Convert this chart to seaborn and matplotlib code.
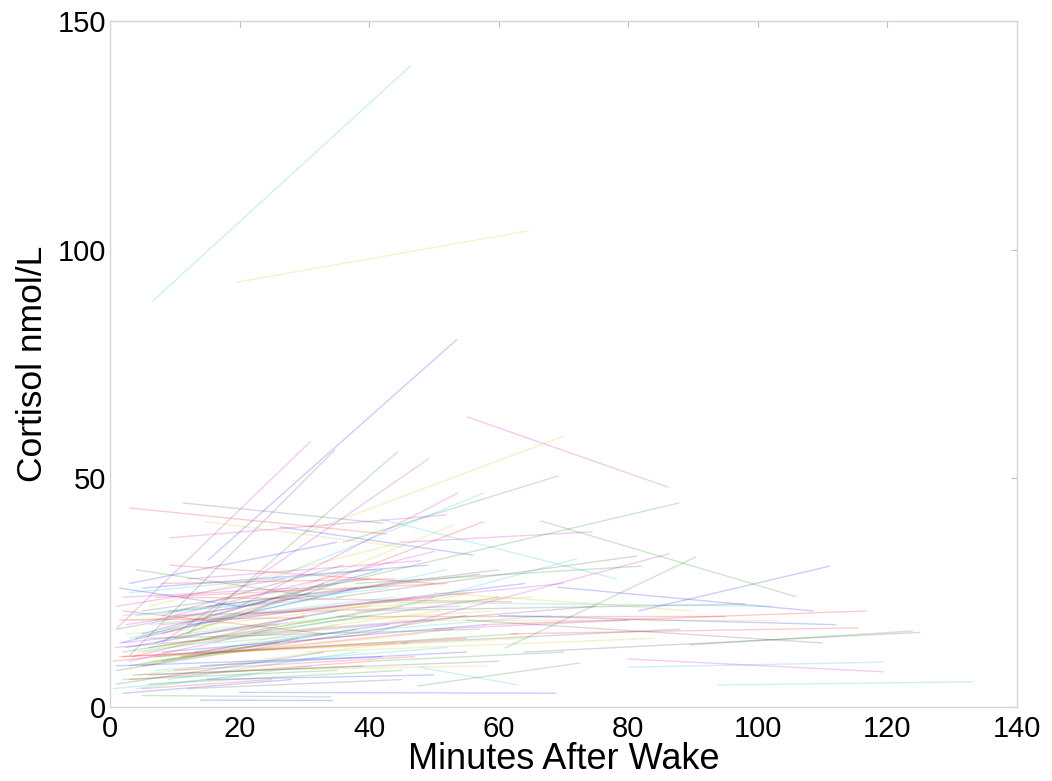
import numpy as np
import pandas as pd
import matplotlib
matplotlib.use("Agg")
import matplotlib.pyplot as plt
import seaborn as sns

# one row per subject: first and second saliva sample (colour cycles b,g,r,c,m,y,k)
start_min = [
    15.1, 12, 3.1, 6.6, 1.1, 19.6, 3.1,
    81.6, 66.5, 58, 42, 55.2, 30, 11.3,
    69.1, 32, 62, 79.9, 79.9, 14.7, 55,
    26.2, 89.5, 9.3, 93.8, 8, 10, 35,
    20, 36, 20, 45, 40, 30, 64,
    13.9, 61.0, 35, 47.8, 45, 50, 38,
    60, 38, 8, 25, 9.3, 4, 1,
    1.5, 5, 0.5, 40, 20, 4.5, 1,
    8, 47.5, 3, 3, 2.5, 6, 9,
    5, 2, 3.5, 2, 7, 10, 5,
    2.5, 6, 1.5, 7, 3, 6, 3.5,
    2, 6, 11, 3, 8, 4, 1,
    12, 5, 2, 9, 0.8, 9, 4,
    13, 7, 1.5, 4, 10, 2.5, 8,
    5, 3, 11, 6, 1, 3, 8,
    14, 2, 7, 5, 12, 9, 15,
    1, 6, 10, 4, 2, 13, 6,
    3, 7, 5, 11, 2, 18, 22,
    15, 4, 8, 16, 20, 43, 45,
    1.5, 40, 2, 0.5, 50, 20, 12,
]
start_cort = [
    32.1, 16, 43.5, 88.8, 17.3, 92.9, 11.4,
    21.0, 40.7, 18, 41, 63.4, 38, 44.6,
    26.2, 26, 16, 8.7, 10.5, 40.5, 19,
    39.4, 13.6, 31, 4.8, 14, 15, 24,
    3.2, 36, 20, 22, 16, 12, 12,
    1.5, 12.9, 20, 8.7, 36, 25, 21,
    20, 27, 18, 28, 37, 9, 8,
    14, 2.5, 10, 23, 22, 7, 5,
    12, 4.6, 6, 15, 18, 10, 21,
    16, 12, 11, 20, 19, 15, 21,
    13, 13, 19, 8, 10, 22, 7,
    3, 5, 11, 25, 16, 12, 17,
    18, 9, 21, 6, 13, 13, 15,
    12, 14, 11, 4, 20, 16, 10,
    26, 9, 24, 18, 22, 19, 20,
    9, 6, 24, 12, 28, 17, 22,
    9, 15, 8, 20, 14, 19, 7,
    27, 11, 4, 16, 24, 12, 16,
    6, 30, 27, 14, 20, 19, 14,
    26, 10, 11, 4, 17, 8, 4,
]
end_min = [
    53.5, 44.4, 42.7, 46.4, 30.9, 64.5, 34.7,
    111.1, 105.9, 116.8, 78.2, 86.1, 70.2, 42.1,
    108.5, 87.8, 115.4, 119.3, 119.3, 45, 109.9,
    56, 123.9, 50, 133.2, 49.1, 53, 81.3,
    68.8, 69.1, 57.6, 72, 86.3, 84, 125,
    34.4, 90.4, 95, 63, 74.4, 90, 98,
    112, 82, 50, 57.7, 52, 35, 55,
    38, 34, 40, 102, 53.7, 44, 33,
    58, 72.5, 40, 52, 48, 48, 57,
    42, 45, 30, 36, 50, 47, 40,
    35, 60, 30, 52, 25, 45, 60,
    28, 45, 53, 41, 31, 56, 24,
    64, 29, 33, 38, 50, 51, 33,
    43, 35, 46, 31, 54, 59, 26,
    49, 38, 62, 44, 27, 65, 36,
    55, 35, 52, 40, 48, 40, 60,
    42, 57, 47, 43, 26, 55, 39,
    35, 63, 25, 38, 29, 64, 75,
    50, 32, 44, 68, 70, 103, 88,
    20, 70, 55, 22, 80, 58, 45,
]
end_cort = [
    80.3, 55.8, 37.8, 140.2, 58.0, 104.1, 56.2,
    30.8, 24.1, 21.0, 28.0, 48.1, 59.3, 40.2,
    21.0, 44.6, 17.3, 9.8, 7.7, 35, 14.0,
    33.2, 16.6, 27, 5.5, 54.2, 39.8, 33.0,
    3.0, 50.5, 40.5, 32.4, 33.5, 15, 16.3,
    1.4, 32.8, 20, 4.8, 38.3, 21, 22.5,
    18, 30.8, 24, 46.8, 42, 18, 20,
    26, 2.2, 16, 22, 46.8, 14, 12,
    18, 9.6, 10, 30, 28, 16, 29,
    30, 22, 20, 24, 34, 24, 28,
    21, 24, 19.5, 13, 17, 36, 10,
    6, 8, 17, 30, 25, 25, 23,
    27, 15, 16, 12, 19, 21, 27,
    18, 27, 14, 9, 22, 21, 14,
    31, 17, 23, 24, 28, 24, 31,
    12, 8, 27, 20, 32, 22, 30,
    11, 17, 11, 26, 18, 25, 9,
    36, 16, 6, 20, 26, 15, 22,
    7, 24, 28, 20, 27, 19, 17,
    22, 12, 15, 7, 19, 9, 6,
]

n = len(start_min)
df = pd.DataFrame({
    "subject": np.repeat(np.arange(n), 2),
    "minutes": np.column_stack([start_min, end_min]).ravel(),
    "cortisol": np.column_stack([start_cort, end_cort]).ravel(),
})

matlab_cycle = [(0, 0, 1), (0, 0.5, 0), (1, 0, 0), (0, 0.75, 0.75),
                (0.75, 0, 0.75), (0.75, 0.75, 0), (0.25, 0.25, 0.25)]
pal = [matlab_cycle[i % 7] for i in range(n)]

sns.set_style("white")
plt.rcParams["font.family"] = ["Liberation Sans", "DejaVu Sans"]
plt.rcParams["axes.labelcolor"] = "black"

fig = plt.figure(figsize=(10.52, 7.81), dpi=100)
ax = fig.add_axes([0.1046, 0.0948, 0.8621, 0.8783])
sns.lineplot(data=df, x="minutes", y="cortisol", hue="subject", palette=pal,
             units="subject", estimator=None, sort=False, legend=False,
             linewidth=1.0, alpha=0.2, ax=ax)

ax.set_xlim(0, 140); ax.set_ylim(0, 150)
ax.set_xticks(range(0, 141, 20)); ax.set_yticks([0, 50, 100, 150])
ax.tick_params(direction="in", length=4, width=0.8, color="#bdbdbd",
               top=True, right=True, labelsize=21, labelcolor="black")
ax.tick_params(axis="x", pad=6)
ax.tick_params(axis="y", pad=3)
for s in ax.spines.values():
    s.set_color("#d6d6d6"); s.set_linewidth(1.0)
ax.set_xlabel("Minutes After Wake", fontsize=26, labelpad=-1, color="black")
ax.set_ylabel("Cortisol nmol/L", fontsize=25.5, labelpad=6, color="black")

fig.savefig("out.png", dpi=100)
